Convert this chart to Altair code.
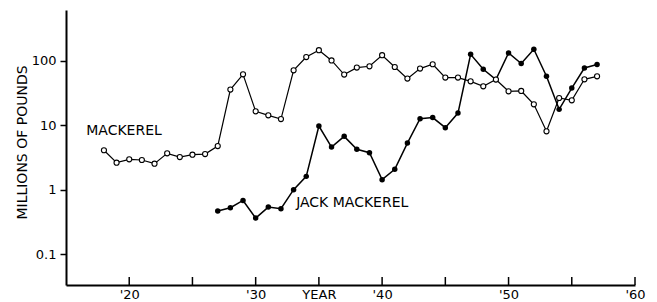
import altair as alt
import pandas as pd

# --- data ---
mack_years = list(range(1918, 1958))
mackerel = [4.1, 2.63, 2.96, 2.89, 2.54, 3.67, 3.21, 3.5, 3.58, 4.76,
            35.9, 62, 16.5, 14.3, 12.5, 71.7, 115, 147, 102, 61.4,
            78.9, 82.7, 123, 80.7, 53.2, 76.2, 88.9, 55.2, 55.2, 48.3,
            40.4, 51.4, 33.8, 34.2, 21.2, 8.07, 26.6, 24.5, 51.9, 57.8]
jack_years = list(range(1927, 1958))
jack = [0.465, 0.525, 0.68, 0.362, 0.536, 0.507, 1.0, 1.61, 9.75, 4.6,
        6.74, 4.24, 3.76, 1.43, 2.07, 5.3, 12.7, 13.2, 9.2, 15.5,
        127, 74.3, 51.4, 133, 91.2, 152, 57.8, 17.7, 38, 77.8, 87.9]

label_text = ["MACKEREL", "JACK MACKEREL"]
label_year = [1916.6, 1933.2]
label_value = [8.1, 0.63]

x_ticks = [1920, 1925, 1930, 1935, 1940, 1945, 1950, 1955, 1960]
y_ticks = [0.1, 1, 10, 100]

W, H = 569, 275
FONT = "DejaVu Sans"

mack_df = pd.DataFrame({"year": mack_years, "value": mackerel})
jack_df = pd.DataFrame({"year": jack_years, "value": jack})
lab_df = pd.DataFrame({"year": label_year, "value": label_value, "text": label_text})
tick_df = pd.DataFrame({"year": x_ticks})

xscale = alt.Scale(domain=[1915, 1960], nice=False, zero=False)
yscale = alt.Scale(type="log", domain=[0.033, 620], nice=False)

x_axis = alt.Axis(
    values=x_ticks, ticks=False, grid=False, domainWidth=2, domainColor="black",
    labelExpr="datum.value == 1935 ? 'YEAR' : (datum.value % 10 == 0 ? \"'\" + substring(toString(datum.value), 2, 4) : '')",
    labelFont=FONT, labelFontSize=13, labelColor="black", labelPadding=3,
    labelFlush=False, labelOverlap=False, title=None,
)
y_axis = alt.Axis(
    values=y_ticks, grid=False, domainWidth=2, domainColor="black",
    tickColor="black", tickSize=6, tickWidth=1.5,
    labelExpr="datum.value < 1 ? '0.1' : format(datum.value, 'd')",
    labelFont=FONT, labelFontSize=13, labelColor="black", labelPadding=4,
    title="MILLIONS OF POUNDS", titleFont=FONT, titleFontSize=14,
    titleFontWeight="normal", titleColor="black", titleX=-44, titleY=132,
    titleAngle=270, titleAlign="center", titleBaseline="middle",
)

x = alt.X("year:Q", scale=xscale, axis=x_axis)
y = alt.Y("value:Q", scale=yscale, axis=y_axis)
xn = alt.X("year:Q", scale=xscale)
yn = alt.Y("value:Q", scale=yscale)

jack_line = alt.Chart(jack_df).mark_line(color="black", strokeWidth=1.5).encode(x=x, y=y)
jack_pts = alt.Chart(jack_df).mark_point(
    shape="circle", filled=True, color="black", size=30, opacity=1
).encode(x=xn, y=yn)
mack_line = alt.Chart(mack_df).mark_line(color="black", strokeWidth=1.2).encode(x=xn, y=yn)
mack_pts = alt.Chart(mack_df).mark_point(
    shape="circle", filled=True, fill="white", stroke="black", strokeWidth=1.1,
    size=26, opacity=1
).encode(x=xn, y=yn)

ticks = alt.Chart(tick_df).mark_rule(color="black", strokeWidth=1.5).encode(
    x=xn, y=alt.value(H), y2=alt.value(H - 8)
)

labels = alt.Chart(lab_df).mark_text(
    align="left", baseline="middle", font=FONT, fontSize=14, color="black"
).encode(x=xn, y=yn, text="text:N")

chart = alt.layer(jack_line, jack_pts, mack_line, mack_pts, ticks, labels).properties(
    width=W, height=H,
    autosize=alt.AutoSizeParams(type="none"),
    padding={"left": 58, "top": 2, "right": 14, "bottom": 18},
).configure(background="white").configure_view(stroke=None)

chart.save("out.html", embed_options={"renderer": "svg", "actions": False})
